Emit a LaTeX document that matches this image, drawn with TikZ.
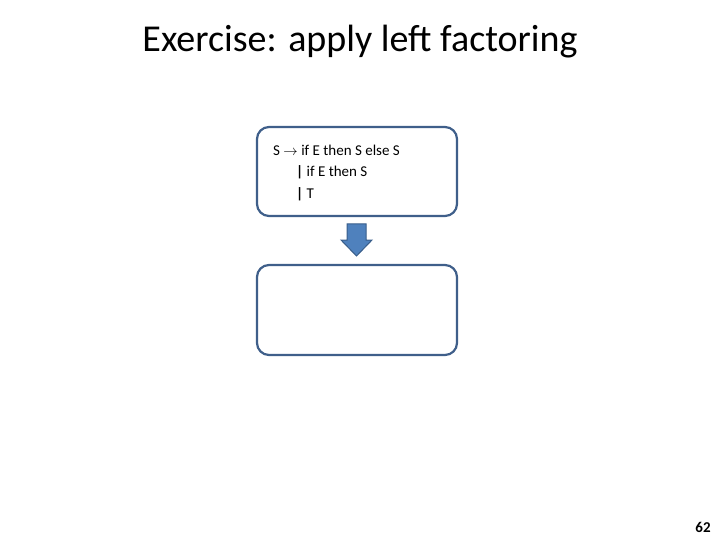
\documentclass[tikz,border=0pt]{standalone}
\usepackage{fontspec}
\setmainfont{Carlito}
\usetikzlibrary{shapes.arrows}
\definecolor{bord}{HTML}{3F5F8A}
\definecolor{afill}{HTML}{4F81BD}
\definecolor{aline}{HTML}{385D8A}
\begin{document}
\begin{tikzpicture}[x=1pt,y=-1pt,
  rbox/.style={draw=bord,line width=2.2pt,rounded corners=12pt,fill=white},
  txt/.style={inner sep=0pt,anchor=west,font=\fontsize{15}{18}\selectfont}]
\useasboundingbox (0,0) rectangle (720,540);
\node[inner sep=0pt,font=\fontsize{38}{44}\selectfont] (title) at (360,42) {Exercise: apply left factoring};
\draw[rbox] (257,127) rectangle (457,216);
\node[rbox,draw=none,fill=none,minimum width=200pt,minimum height=89pt,anchor=north west] (b1) at (257,127) {};
\node[txt] (l1) at (273,150) {S $\rightarrow$ if E then S else S};
\node[txt] (l2) at (296,172) {\textbf{|} if E then S};
\node[txt] (l3) at (296,194) {\textbf{|} T};
\draw[rbox] (257,265) rectangle (457,355);
\node[minimum width=200pt,minimum height=90pt,anchor=north west] (b2) at (257,265) {};
\draw[fill=afill,draw=aline,line width=1pt] (347,224) -- (366,224) -- (366,240) -- (372,240) -- (356.5,256) -- (341,240) -- (347,240) -- cycle;
\node[inner sep=0pt,font=\fontsize{15}{18}\selectfont\bfseries] (pg) at (703,527) {62};
\end{tikzpicture}
\end{document}
